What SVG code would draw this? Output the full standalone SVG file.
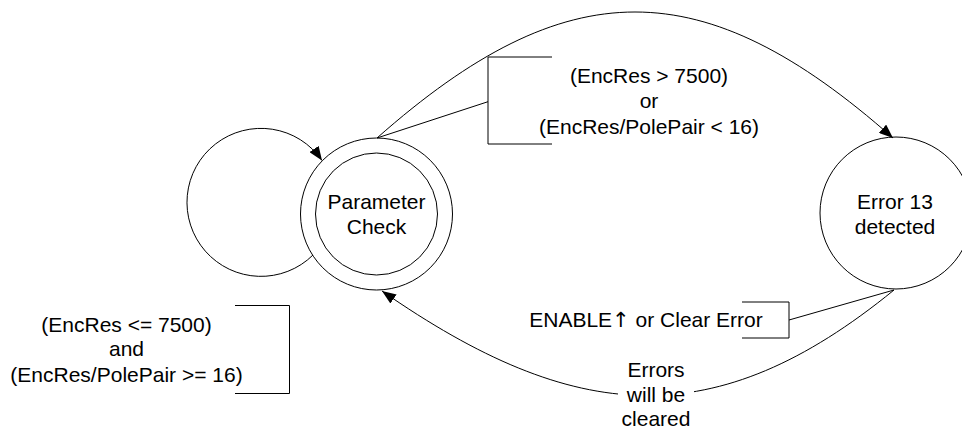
<svg xmlns="http://www.w3.org/2000/svg" width="962" height="431" viewBox="0 0 962 431">
  <style>
    .node { fill: none; stroke: #000; stroke-width: 1; }
    .txt { font-family: "Liberation Sans", Arial, sans-serif; font-size: 21px; fill: #000; text-anchor: middle; }
    .sym { font-family: "DejaVu Sans", sans-serif; }
    .edge { fill: none; stroke: #000; stroke-width: 1; }
    .bracket { fill: none; stroke: #000; stroke-width: 1; }
  </style>
  <defs>
    <marker id="arrow" markerUnits="userSpaceOnUse" viewBox="0 0 14 11" refX="14" refY="5.5" markerWidth="14" markerHeight="11" orient="auto">
      <path d="M0,0 L14,5.5 L0,11 Z" fill="#000"/>
    </marker>
  </defs>
  <rect width="962" height="431" fill="#fff"/>

  <g id="param-check">
    <circle class="node" cx="376.5" cy="214" r="76"/>
    <circle class="node" cx="376.5" cy="214" r="61"/>
    <text class="txt" x="376.5" y="209">Parameter</text>
    <text class="txt" x="376.5" y="233.5">Check</text>
  </g>

  <g id="error13">
    <circle class="node" cx="896" cy="213" r="76"/>
    <text class="txt" x="895" y="208.5">Error 13</text>
    <text class="txt" x="895" y="233.5">detected</text>
  </g>

  <g id="connectors">
    <path class="edge" d="M313,255 A74,74 0 1 1 322,160.5" marker-end="url(#arrow)"/>
    <path class="edge" d="M377,138 C567,-30 703,-30 893,138" marker-end="url(#arrow)"/>
    <path class="edge" d="M894,290 C715,436 575,425 382,291" marker-end="url(#arrow)"/>
  </g>

  <g id="label-loop">
    <path class="bracket" d="M235,305.5 H289.5 V393.5 H235"/>
    <text class="txt" x="126.5" y="331.5">(EncRes &lt;= 7500)</text>
    <text class="txt" x="126.5" y="356">and</text>
    <text class="txt" x="126.5" y="381.5">(EncRes/PolePair &gt;= 16)</text>
  </g>

  <g id="label-to-error">
    <line class="edge" x1="377" y1="138" x2="488" y2="101.7"/>
    <path class="bracket" d="M552,57 H488 V144 H552"/>
    <text class="txt" x="649" y="82.5">(EncRes &gt; 7500)</text>
    <text class="txt" x="649" y="108">or</text>
    <text class="txt" x="649" y="133.5">(EncRes/PolePair &lt; 16)</text>
  </g>

  <g id="label-enable">
    <line class="edge" x1="894" y1="290" x2="789" y2="320"/>
    <path class="bracket" d="M742,302 H789 V338 H742"/>
    <text class="txt" x="646" y="327">ENABLE<tspan class="sym">↑</tspan> or Clear Error</text>
  </g>

  <g id="label-cleared">
    <rect x="618" y="362" width="76" height="69" fill="#fff"/>
    <text class="txt" x="656" y="377">Errors</text>
    <text class="txt" x="656" y="401.5">will be</text>
    <text class="txt" x="656" y="426">cleared</text>
  </g>
</svg>
